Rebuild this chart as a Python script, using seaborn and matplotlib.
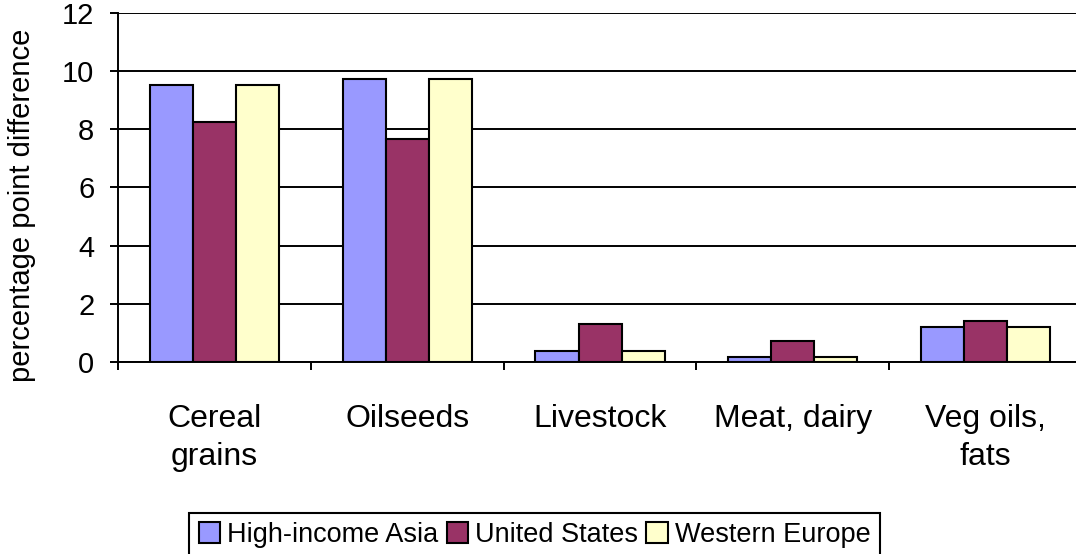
import pandas as pd
import matplotlib.pyplot as plt
import seaborn as sns

# values
categories = ['Cereal\ngrains', 'Oilseeds', 'Livestock', 'Meat, dairy', 'Veg oils,\nfats']
regions = ['High-income Asia', 'United States', 'Western Europe']
high_income_asia = [9.52, 9.73, 0.39, 0.18, 1.21]
united_states = [8.25, 7.67, 1.30, 0.73, 1.42]
western_europe = [9.52, 9.73, 0.39, 0.18, 1.21]
colors = ['#9999FF', '#993366', '#FFFFCC']

# long-form table for seaborn
df = pd.DataFrame({
    'category': categories * 3,
    'region': [regions[0]] * 5 + [regions[1]] * 5 + [regions[2]] * 5,
    'value': high_income_asia + united_states + western_europe,
})

sns.set_style('white')
plt.rcParams['font.family'] = ['Liberation Sans', 'DejaVu Sans']
plt.rcParams['text.color'] = 'black'
plt.rcParams['xtick.color'] = 'black'
plt.rcParams['ytick.color'] = 'black'
plt.rcParams['axes.labelcolor'] = 'black'

fig = plt.figure(figsize=(10.76, 5.54), dpi=100)
ax = fig.add_axes([0.1097, 0.3466, 0.896, 0.630])

sns.barplot(data=df, x='category', y='value', hue='region', order=categories,
            hue_order=regions, palette=colors, saturation=1, width=0.67,
            edgecolor='black', linewidth=1.5, ax=ax, zorder=3)

ax.set_ylim(0, 12)
ax.set_yticks(range(0, 13, 2))
ax.yaxis.grid(True, color='black', linewidth=1.4, zorder=0)
ax.set_axisbelow(True)
for s in ['top', 'right']:
    ax.spines[s].set_visible(False)
for s in ['left', 'bottom']:
    ax.spines[s].set_color('black')
    ax.spines[s].set_linewidth(1.4)

# tick marks between categories, labels in the middle
ax.set_xticks([i - 0.5 for i in range(len(categories) + 1)])
ax.set_xticklabels([])
ax.set_xticks(range(len(categories)), minor=True)
ax.set_xticklabels(categories, minor=True, fontsize=23, linespacing=1.35)
ax.tick_params(axis='x', which='major', direction='out', length=6, width=1.4, bottom=True)
ax.tick_params(axis='x', which='minor', length=0, pad=30)
ax.tick_params(axis='y', direction='out', length=6, width=1.4, left=True,
               labelsize=21, pad=11)
ax.set_xlim(-0.5, len(categories) - 0.5)

ax.set_xlabel('')
ax.set_ylabel('percentage point difference', fontsize=21)
ax.yaxis.set_label_coords(-0.085, 0.45)

leg = ax.legend(loc='upper center', bbox_to_anchor=(0.432, -0.432), ncol=3, fontsize=19.5,
                frameon=True, fancybox=False, edgecolor='black', framealpha=1,
                handlelength=0.8, handleheight=0.8, handletextpad=0.25,
                columnspacing=0.3, borderpad=0.35, borderaxespad=0)
leg.get_frame().set_linewidth(1.5)

fig.savefig('out.png', dpi=100)
